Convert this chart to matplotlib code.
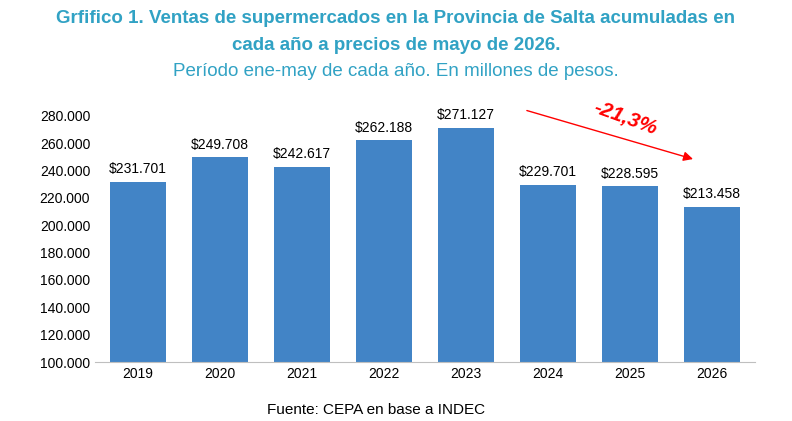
import matplotlib.pyplot as plt

years = ['2019', '2020', '2021', '2022', '2023', '2024', '2025', '2026']
ventas = [231701, 249708, 242617, 262188, 271127, 229701, 228595, 213458]
labels = ['$231.701', '$249.708', '$242.617', '$262.188', '$271.127', '$229.701', '$228.595', '$213.458']
yticks = list(range(100000, 280001, 20000))

plt.rcParams['font.family'] = ['Liberation Sans', 'DejaVu Sans']
fig = plt.figure(figsize=(7.92, 4.21), dpi=100)
ax = fig.add_axes([0.12, 0.14, 0.833, 0.585])

x = range(len(years))
ax.bar(x, ventas, width=0.68, color='#4284C6')
for i, (v, lab) in enumerate(zip(ventas, labels)):
    ax.text(i, v + 4000, lab, ha='center', va='bottom', fontsize=10, clip_on=False)

ax.set_ylim(100000, 280000)
ax.set_xlim(-0.52, 7.52)
ax.set_yticks(yticks)
ax.set_yticklabels([f'{t:,}'.replace(',', '.') for t in yticks], fontsize=10)
ax.set_xticks(list(x))
ax.set_xticklabels(years, fontsize=10)
for s in ['top', 'right', 'left']:
    ax.spines[s].set_visible(False)
ax.spines['bottom'].set_color('#BFBFBF')
ax.tick_params(axis='y', length=0)
ax.tick_params(axis='x', length=0)

ax.annotate('', xy=(6.8, 247800), xytext=(4.71, 284400),
            arrowprops=dict(arrowstyle='-|>', color='red', lw=1, mutation_scale=14),
            annotation_clip=False)
ax.text(5.94, 278500, '-21,3%', color='red', fontsize=15, fontweight='bold',
        fontstyle='italic', rotation=-20, ha='center', va='center')

teal = '#31A2C4'
fig.text(0.5, 0.957, 'Grfifico 1. Ventas de supermercados en la Provincia de Salta acumuladas en',
         ha='center', va='center', fontsize=13.5, fontweight='bold', color=teal)
fig.text(0.5, 0.893, 'cada año a precios de mayo de 2026.', ha='center', va='center',
         fontsize=13.5, fontweight='bold', color=teal)
fig.text(0.5, 0.829, 'Período ene-may de cada año. En millones de pesos.', ha='center',
         va='center', fontsize=13.5, color=teal)
fig.text(0.475, 0.027, 'Fuente: CEPA en base a INDEC', ha='center', va='center', fontsize=11)

fig.savefig('out.png', dpi=100)
